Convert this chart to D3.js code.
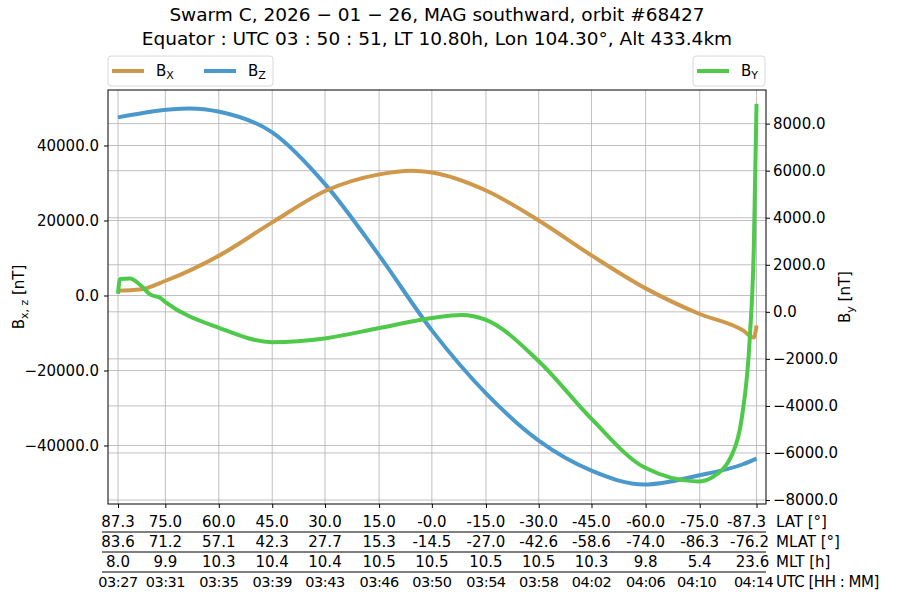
<!DOCTYPE html>
<html><head><meta charset="utf-8">
<script src="https://cdn.jsdelivr.net/npm/d3@7"></script>
<style>body{margin:0;background:#fff;font-family:"DejaVu Sans",sans-serif}</style>
</head><body><div id="chart"></div>
<script>
// minutes since 03:27 and field values [nT]
var bxT = [0, 1.6, 3.56, 7.5, 11.4, 15.4, 19.3, 21.7, 23.2, 27.2, 31.1, 35.0, 38.9, 42.9, 46.2, 47.0, 47.2];
var bxV = [1300, 1600, 4000, 10700, 19500, 28000, 32300, 33300, 32800, 28000, 20000, 10700, 2100, -4800, -9300, -11200, -8000];
var bzT = [0, 5.3, 7.5, 11.4, 15.4, 19.3, 23.2, 27.2, 31.1, 35.0, 38.9, 42.9, 46.2, 47.2];
var bzV = [47500, 49900, 49000, 43500, 29300, 10700, -9300, -26100, -38700, -46700, -50400, -48000, -45000, -43500];
var byT = [0, 0.15, 0.9, 1.6, 2.4, 3.1, 3.56, 7.5, 11.4, 15.4, 19.3, 23.2, 25.4, 27.2, 31.1, 35.0, 38.9, 42.9, 43.9, 45.4, 46.1, 46.7, 47.0, 47.2];
var byV = [770, 1400, 1420, 1160, 730, 600, 390, -690, -1290, -1120, -690, -260, -130, -340, -2100, -4550, -6610, -7210, -7040, -6050, -4550, -1120, 2750, 8840];
var tickT = [0, 3.5, 7.45, 11.4, 15.3, 19.3, 23.2, 27.2, 31.1, 35.0, 39.0, 43.0, 47.2];
var latL = ["87.3","75.0","60.0","45.0","30.0","15.0","-0.0","-15.0","-30.0","-45.0","-60.0","-75.0","-87.3"];
var mlatL = ["83.6","71.2","57.1","42.3","27.7","15.3","-14.5","-27.0","-42.6","-58.6","-74.0","-86.3","-76.2"];
var mltL = ["8.0","9.9","10.3","10.4","10.4","10.5","10.5","10.5","10.5","10.3","9.8","5.4","23.6"];
var utcL = ["03:27","03:31","03:35","03:39","03:43","03:46","03:50","03:54","03:58","04:02","04:06","04:10","04:14"];
var leftTicks = [-40000, -20000, 0, 20000, 40000];
var rightTicks = [-8000, -6000, -4000, -2000, 0, 2000, 4000, 6000, 8000];

var W = 900, H = 600, L = 108, R = 766, T = 90, B = 504;
var svg = d3.select("#chart").append("svg").attr("width", W).attr("height", H);
var x = d3.scaleLinear().domain([-0.74, 47.9]).range([L, R]);
var yl = d3.scaleLinear().domain([-55600, 54800]).range([B, T]);
var yr = d3.scaleLinear().domain([-8170, 9430]).range([B, T]);

// grid
var g = svg.append("g").attr("stroke", "#b0b0b0").attr("stroke-width", 0.8);
tickT.forEach(function(t){ g.append("line").attr("x1", x(t)).attr("x2", x(t)).attr("y1", T).attr("y2", B); });
leftTicks.forEach(function(v){ g.append("line").attr("x1", L).attr("x2", R).attr("y1", yl(v)).attr("y2", yl(v)); });
rightTicks.forEach(function(v){ g.append("line").attr("x1", L).attr("x2", R).attr("y1", yr(v)).attr("y2", yr(v)); });

function line(ts, vs, y) {
  return d3.line().curve(d3.curveMonotoneX).x(function(d, i){ return x(ts[i]); }).y(function(d){ return y(d); })(vs);
}
svg.append("path").attr("d", line(bzT, bzV, yl)).attr("fill", "none").attr("stroke", "#4b98cd").attr("stroke-width", 4);
svg.append("path").attr("d", line(bxT, bxV, yl)).attr("fill", "none").attr("stroke", "#d0984b").attr("stroke-width", 4);
svg.append("path").attr("d", line(byT, byV, yr)).attr("fill", "none").attr("stroke", "#4ec94a").attr("stroke-width", 4);

svg.append("rect").attr("x", L).attr("y", T).attr("width", R - L).attr("height", B - T).attr("fill", "none").attr("stroke", "#000");

// axes
var al = svg.append("g").attr("transform", "translate(" + L + ",0)")
  .call(d3.axisLeft(yl).tickValues(leftTicks).tickSize(4).tickFormat(d3.format(".1f")));
var ar = svg.append("g").attr("transform", "translate(" + R + ",0)")
  .call(d3.axisRight(yr).tickValues(rightTicks).tickSize(4).tickFormat(d3.format(".1f")));
var ab = svg.append("g").attr("transform", "translate(0," + B + ")")
  .call(d3.axisBottom(x).tickValues(tickT).tickSize(4).tickFormat(""));
[al, ar, ab].forEach(function(a){
  a.select(".domain").remove();
  a.selectAll("text").attr("font-size", 15).attr("font-family", "DejaVu Sans").attr("fill", "#000");
});
al.selectAll("text").attr("dx", -2);

// bottom rows
var rows = [[latL, "LAT [°]"], [mlatL, "MLAT [°]"], [mltL, "MLT [h]"], [utcL, "UTC [HH : MM]"]];
rows.forEach(function(r, k) {
  var yy = 527 + k * 20;
  svg.append("g").selectAll("text").data(r[0]).enter().append("text")
    .attr("x", function(d, i){ return x(tickT[i]) + (i == 12 && k < 3 ? -10 + k * 3 : 0) + (i == 12 && k == 3 ? -3 : 0) + (i == 11 && k == 3 ? -3 : 0); })
    .attr("y", yy).attr("text-anchor", "middle").attr("font-size", k == 3 ? 14.5 : 15)
    .attr("letter-spacing", k == 3 ? -0.5 : 0).text(function(d){ return d; });
  svg.append("text").attr("x", 776).attr("y", yy).attr("font-size", 15).attr("letter-spacing", k == 3 ? -0.5 : 0).text(r[1]);
  if (k < 3) svg.append("line").attr("x1", 102).attr("x2", 766).attr("y1", yy + 5).attr("y2", yy + 5).attr("stroke", "#000");
});

// titles
svg.append("text").attr("x", 437).attr("y", 21).attr("text-anchor", "middle").attr("font-size", 18.5)
  .text("Swarm C,  2026 − 01 − 26,  MAG southward,  orbit #68427");
svg.append("text").attr("x", 437).attr("y", 45).attr("text-anchor", "middle").attr("font-size", 18.5)
  .text("Equator :  UTC 03 : 50 : 51,  LT 10.80h,  Lon 104.30°,  Alt 433.4km");

var tl = svg.append("text").attr("transform", "translate(24,297) rotate(-90)").attr("text-anchor", "middle").attr("font-size", 15);
tl.append("tspan").text("B");
tl.append("tspan").attr("font-size", 11).attr("dy", 4).text("x, z");
tl.append("tspan").attr("dy", -4).text(" [nT]");
var tr = svg.append("text").attr("transform", "translate(850,297) rotate(-90)").attr("text-anchor", "middle").attr("font-size", 15);
tr.append("tspan").text("B");
tr.append("tspan").attr("font-size", 11).attr("dy", 4).text("y");
tr.append("tspan").attr("dy", -4).text(" [nT]");

// legends
function legend(x0, w, items) {
  var lg = svg.append("g");
  lg.append("rect").attr("x", x0).attr("y", 56).attr("width", w).attr("height", 30).attr("rx", 3)
    .attr("fill", "#fff").attr("stroke", "#d8d8d8");
  items.forEach(function(it, i) {
    var ox = x0 + 4 + i * 92;
    lg.append("line").attr("x1", ox).attr("x2", ox + 32).attr("y1", 71).attr("y2", 71).attr("stroke", it[1]).attr("stroke-width", 4);
    var t = lg.append("text").attr("x", ox + 44).attr("y", 76).attr("font-size", 15);
    t.append("tspan").text("B");
    t.append("tspan").attr("font-size", 11).attr("dy", 3).text(it[0]);
  });
}
legend(108, 165, [["X", "#d0984b"], ["Z", "#4b98cd"]]);
legend(693, 72, [["Y", "#4ec94a"]]);
</script></body></html>
